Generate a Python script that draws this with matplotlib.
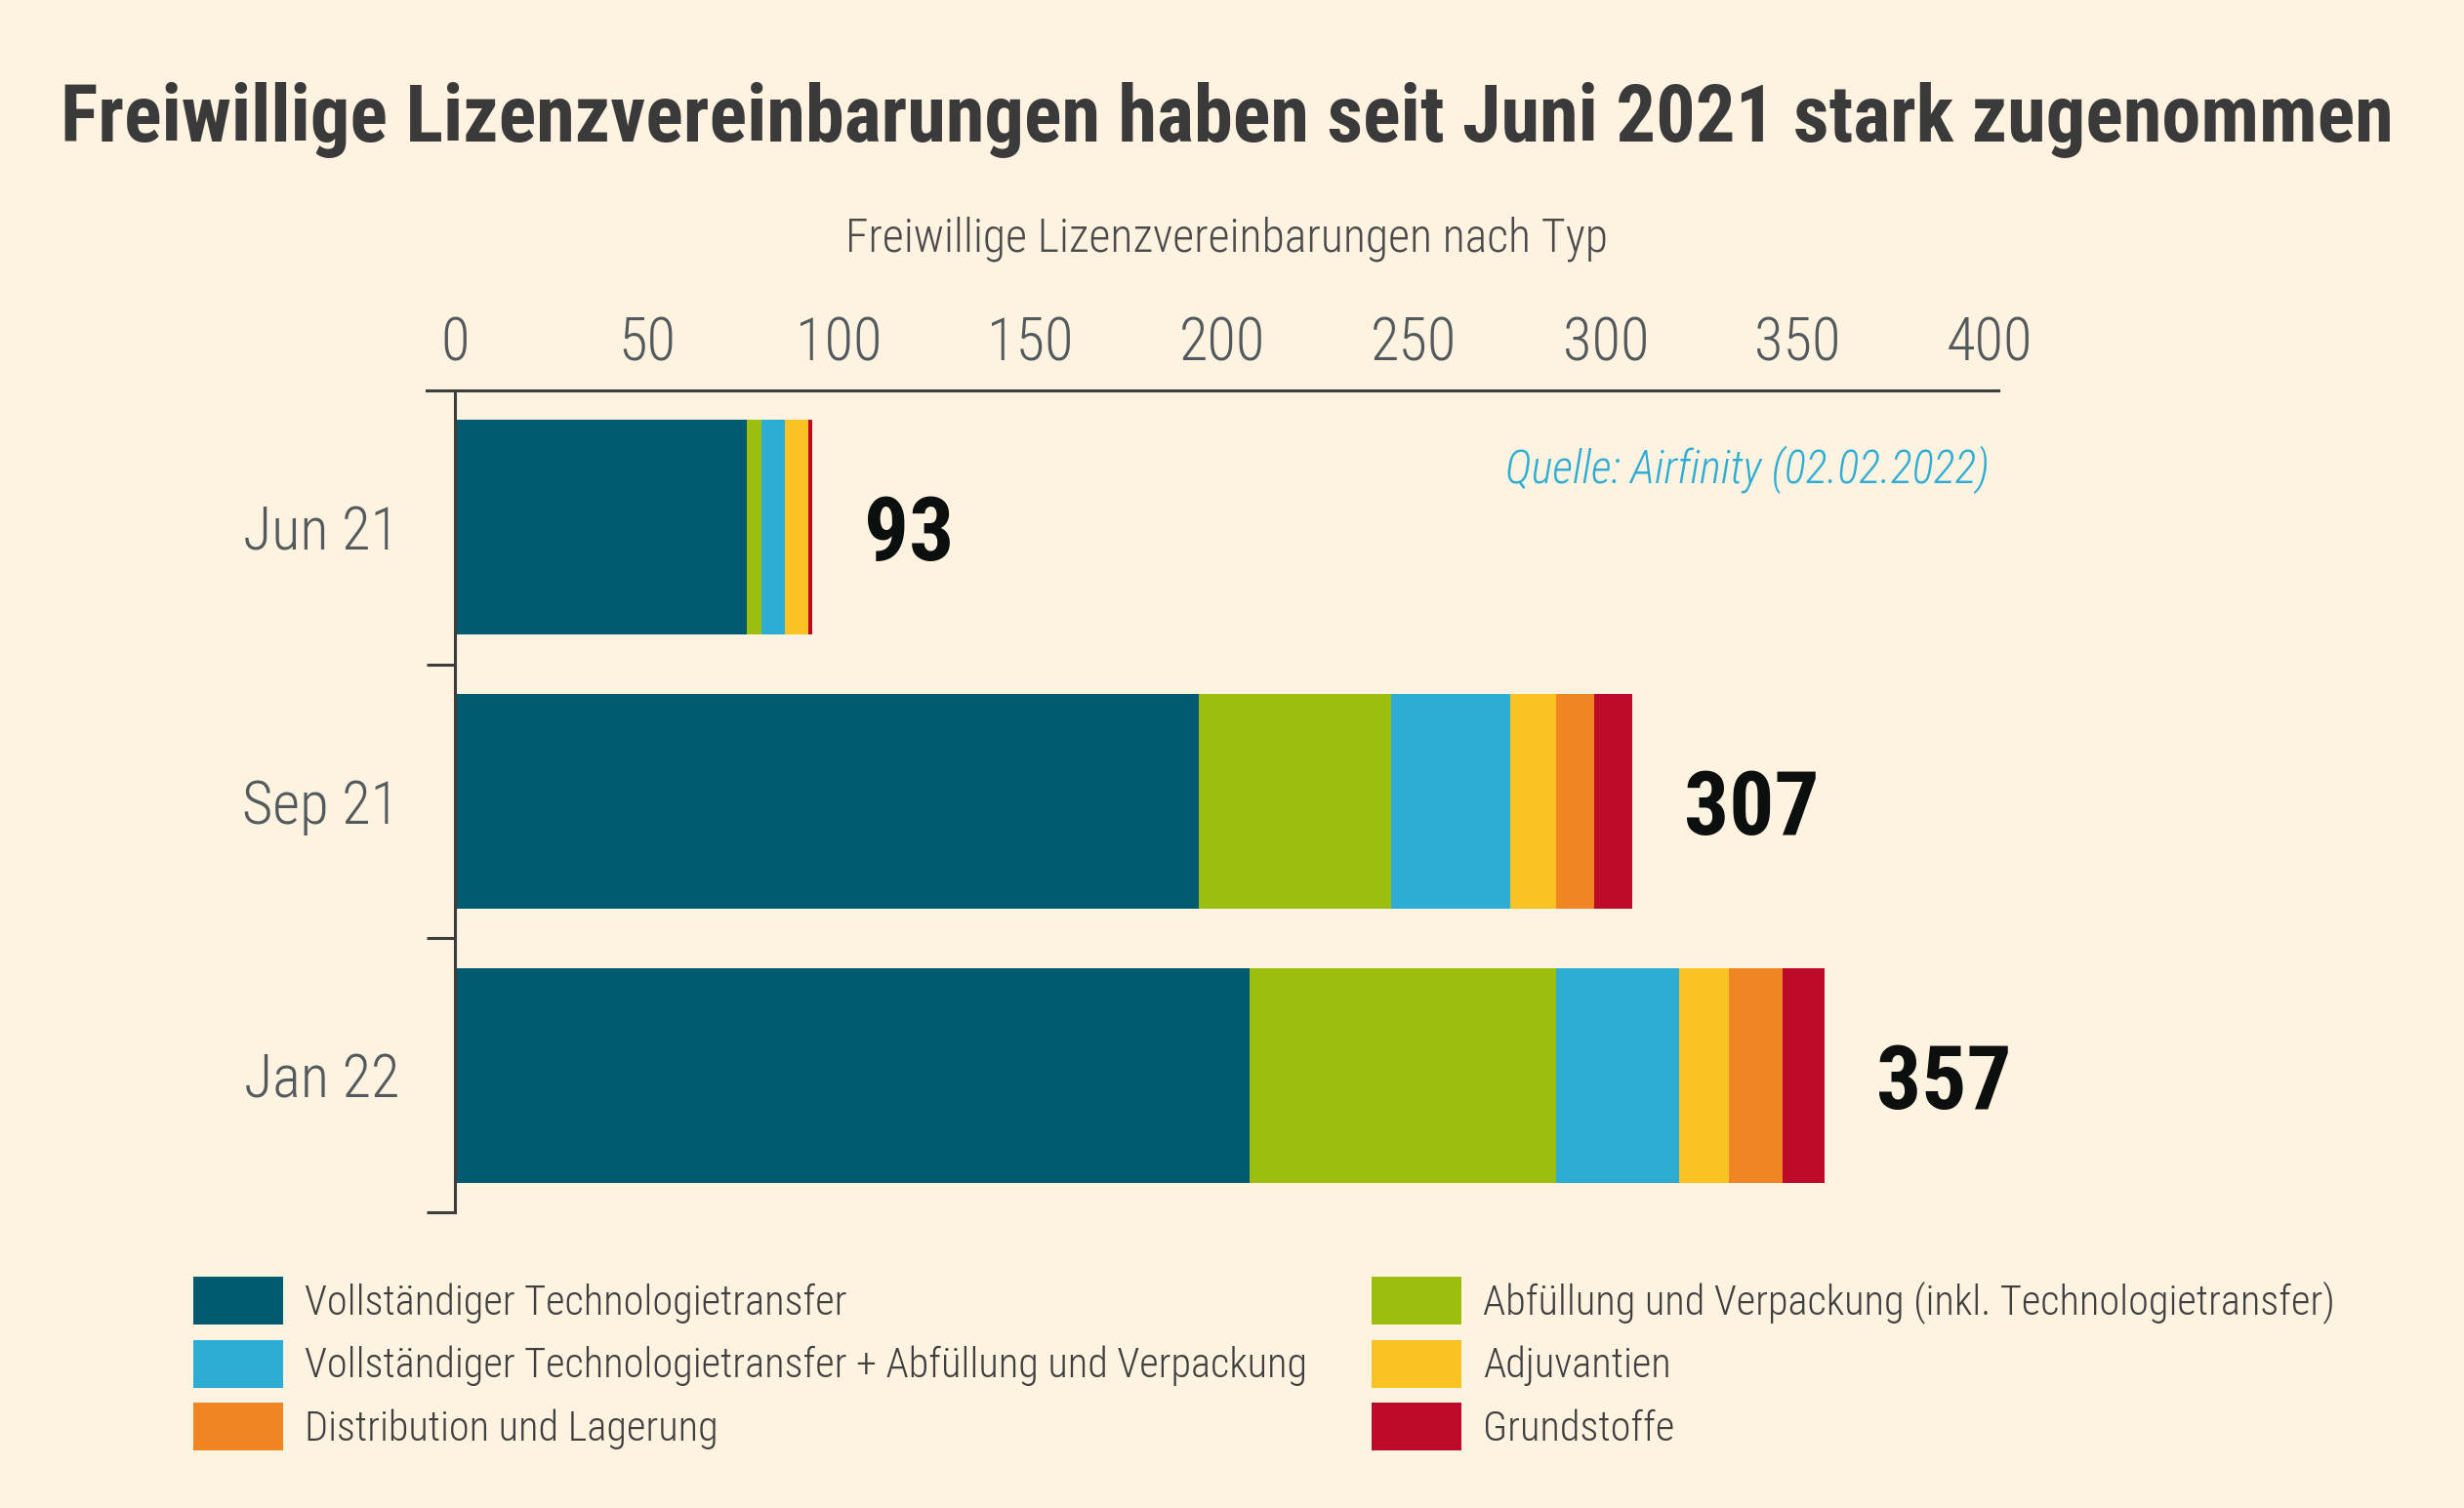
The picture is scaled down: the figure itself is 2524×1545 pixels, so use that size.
import os
import matplotlib
matplotlib.use("Agg")
import matplotlib.pyplot as plt
from matplotlib import font_manager as fm
from matplotlib.patches import Patch

# ---- data ----
periods = ["Jun 21", "Sep 21", "Jan 22"]
full_transfer = [76, 194, 207]        # Vollständiger Technologietransfer
fill_finish = [4, 50, 80]             # Abfüllung und Verpackung (inkl. TT)
transfer_plus_fill = [6, 31, 32]      # Vollständiger TT + Abfüllung und Verpackung
adjuvants = [6, 12, 13]               # Adjuvantien
distribution = [0, 10, 14]            # Distribution und Lagerung
raw_materials = [1, 10, 11]           # Grundstoffe
x_ticks = [0, 50, 100, 150, 200, 250, 300, 350, 400]

names = [
    "Vollständiger Technologietransfer",
    "Abfüllung und Verpackung (inkl. Technologietransfer)",
    "Vollständiger Technologietransfer + Abfüllung und Verpackung",
    "Adjuvantien",
    "Distribution und Lagerung",
    "Grundstoffe",
]
series = [full_transfer, fill_finish, transfer_plus_fill, adjuvants, distribution, raw_materials]
colors = ["#005b70", "#9bbe0f", "#2eadd4", "#fbc224", "#ef8523", "#bd0a29"]

bg = "#fef2e1"
line_col = "#3d3d3d"
tick_col = "#525a5d"
W, H = 2524, 1545


def pick_font(files, **fallback):
    """first installed file from the list, else a plain family"""
    by_name = {os.path.basename(f.fname).lower(): f.fname for f in fm.fontManager.ttflist}
    for f in files:
        if f.lower() in by_name:
            return fm.FontProperties(fname=by_name[f.lower()])
    return fm.FontProperties(**fallback)


fp_bold = pick_font(["NotoSans-ExtraCondensedBold.ttf", "NotoSans-CondensedBold.ttf",
                     "RobotoCondensed-Bold.ttf", "LiberationSansNarrow-Bold.ttf",
                     "DejaVuSansCondensed-Bold.ttf"], family="DejaVu Sans", weight="bold")
fp_light = pick_font(["NotoSans-ExtraCondensedLight.ttf", "NotoSans-CondensedLight.ttf",
                      "NotoSans-ExtraCondensed.ttf", "RobotoCondensed-Light.ttf",
                      "LiberationSansNarrow-Regular.ttf", "DejaVuSansCondensed.ttf"],
                     family="DejaVu Sans")
fp_italic = pick_font(["NotoSans-ExtraCondensedLightItalic.ttf", "NotoSans-CondensedLightItalic.ttf",
                       "NotoSans-ExtraCondensedItalic.ttf", "RobotoCondensed-LightItalic.ttf",
                       "LiberationSansNarrow-Italic.ttf", "DejaVuSansCondensed-Oblique.ttf"],
                      family="DejaVu Sans", style="italic")

fig = plt.figure(figsize=(W / 100, H / 100), dpi=100)
fig.patch.set_facecolor(bg)
renderer = fig.canvas.get_renderer()


def fitted(fp, text, width_px, grow=1.0):
    # scale the font so the text gets the width it has in the reference
    probe_fp = fp.copy()
    probe_fp.set_size(50)
    probe = fig.text(0, 0, text, fontproperties=probe_fp)
    w = probe.get_window_extent(renderer).width
    probe.remove()
    out = fp.copy()
    out.set_size(50 * width_px / w * grow)
    return out


fp_title = fitted(fp_bold, "Freiwillige Lizenzvereinbarungen haben seit Juni 2021 stark zugenommen", 2395)
fp_sub = fitted(fp_light, "Freiwillige Lizenzvereinbarungen nach Typ", 758, 1.03)
fp_tick = fitted(fp_light, "Jun 21", 128, 1.25)
fp_total = fitted(fp_bold, "307", 126, 1.1)
fp_src = fitted(fp_italic, "Quelle: Airfinity (02.02.2022)", 497)
fp_leg = fitted(fp_light, names[2], 1027)

# ---- axes ----
ax = fig.add_axes([437 / W, 1 - 1242 / H, 1610 / W, 842 / H])
ax.set_facecolor(bg)

ypos = list(range(len(periods)))
left = [0] * len(periods)
for vals, name, c in zip(series, names, colors):
    ax.barh(ypos, vals, left=left, height=0.783, color=c, label=name, linewidth=0)
    left = [l + v for l, v in zip(left, vals)]

for i, total in enumerate(left):
    ax.annotate(f"{total}", xy=(total, i), xytext=(53, 0), textcoords="offset pixels",
                ha="left", va="center_baseline", fontproperties=fp_total, color="#0b0f0d")

ax.set_xlim(-7.4, 402.3)
ax.set_ylim(2.5, -0.5)

for s in ["bottom", "right"]:
    ax.spines[s].set_visible(False)
ax.spines["top"].set_linewidth(2.2)
ax.spines["top"].set_color(line_col)
ax.spines["left"].set_position(("data", 0))
ax.spines["left"].set_linewidth(2.2)
ax.spines["left"].set_color(line_col)

ax.xaxis.tick_top()
ax.set_xticks(x_ticks, labels=[str(t) for t in x_ticks], fontproperties=fp_tick)
ax.tick_params(axis="x", length=0, pad=13, labelcolor=tick_col)

ax.set_yticks(ypos, labels=periods, fontproperties=fp_tick)
ax.set_yticks([0.5, 1.5, 2.5], minor=True)
ax.tick_params(axis="y", which="major", length=0, pad=41, labelcolor=tick_col)
ax.tick_params(axis="y", which="minor", length=21, width=2.2, color=line_col, direction="out")

# ---- texts ----
fig.text(1257 / W, 1 - 145 / H, "Freiwillige Lizenzvereinbarungen haben seit Juni 2021 stark zugenommen",
         ha="center", va="baseline", fontproperties=fp_title, color="#3a3a3a")
fig.text(1256 / W, 1 - 258 / H, "Freiwillige Lizenzvereinbarungen nach Typ",
         ha="center", va="baseline", fontproperties=fp_sub, color="#4a4a4a")
fig.text(2038 / W, 1 - 476 / H, "Quelle: Airfinity (02.02.2022)",
         ha="right", va="center_baseline", fontproperties=fp_src, color="#2eadd4")

# ---- legend: two columns placed like the reference ----
fs_px = fp_leg.get_size() * 100 / 72
box_h = 49 / fs_px
handles = [Patch(facecolor=c, edgecolor="none") for c in colors]
cols = [[0, 2, 4], [1, 3, 5]]
anchors = [198 / W, 1405 / W]
for col, x0 in zip(cols, anchors):
    fig.legend([handles[k] for k in col], [names[k] for k in col],
               loc="center left", bbox_to_anchor=(x0, 1 - 1397 / H),
               prop=fp_leg, frameon=False, borderpad=0, borderaxespad=0,
               handlelength=92 / fs_px, handleheight=(box_h - 0.245) / 0.65,
               handletextpad=22 / fs_px, labelspacing=15.5 / fs_px,
               labelcolor="#3f3f3f")

fig.savefig("out.png", dpi=100, facecolor=bg)
